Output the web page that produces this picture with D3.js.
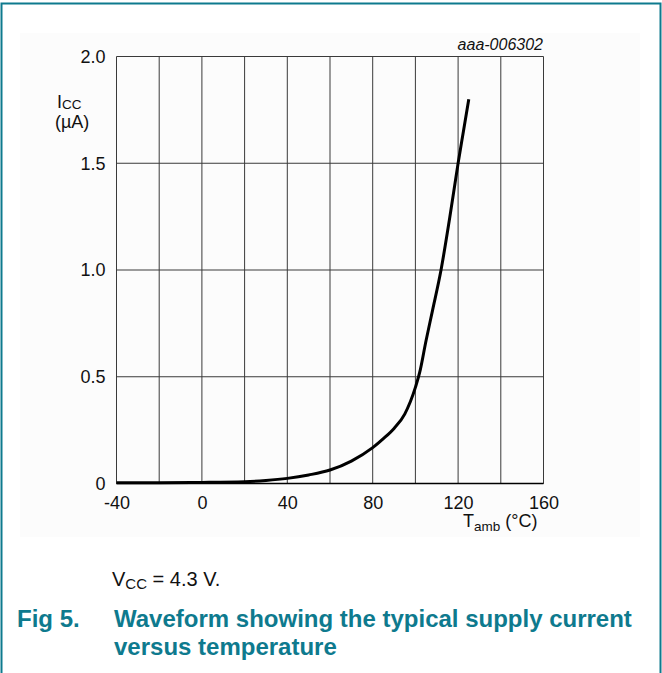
<!DOCTYPE html>
<html>
<head>
<meta charset="utf-8">
<script src="https://cdn.jsdelivr.net/npm/d3@7"></script>
<style>
  body { margin: 0; background: #fff; }
  svg { display: block; font-family: "Liberation Sans", Arial, sans-serif; }
</style>
</head>
<body>
<div id="chart"></div>
<script>
// Typical supply current vs ambient temperature
const temps = [-40, -20, 0, 20, 30, 40, 50, 60, 70, 80, 85, 90, 95, 100, 102, 105, 108, 112, 116, 120, 122.5, 125];
const icc   = [0.004, 0.004, 0.005, 0.008, 0.014, 0.024, 0.04, 0.063, 0.105, 0.168, 0.21, 0.258, 0.325, 0.45, 0.52, 0.67, 0.81, 1.0, 1.24, 1.5, 1.65, 1.8];

const xLabels = [-40, 0, 40, 80, 120, 160];
const yLabels = [0, 0.5, 1.0, 1.5, 2.0];

const W = 662, H = 673;
const TEAL = '#0e7a8e';
const FONT = '"Liberation Sans", Arial, sans-serif';
const plot = { left: 116.5, top: 56.5, right: 543.5, bottom: 483.5 };

const svg = d3.select('#chart').append('svg')
  .attr('width', W).attr('height', H);

// faint figure background + teal frame
svg.append('rect')
  .attr('x', 20).attr('y', 33).attr('width', 620).attr('height', 504)
  .attr('fill', '#fcfcfc');
svg.append('path')
  .attr('d', `M1.5,${H} V3.5 H660.5 V${H}`)
  .attr('fill', 'none').attr('stroke', TEAL).attr('stroke-width', 2);

const x = d3.scaleLinear().domain([-40, 160]).range([plot.left, plot.right]);
const y = d3.scaleLinear().domain([0, 2.0]).range([plot.bottom, plot.top]);

// grid
const grid = svg.append('g').attr('stroke', '#3a3a3a').attr('stroke-width', 1);
grid.selectAll('.vx').data(d3.range(-40, 161, 20)).join('line')
  .attr('x1', d => x(d)).attr('x2', d => x(d))
  .attr('y1', plot.top).attr('y2', plot.bottom);
grid.selectAll('.hy').data(d3.range(0, 2.01, 0.5)).join('line')
  .attr('x1', plot.left).attr('x2', plot.right)
  .attr('y1', d => y(d)).attr('y2', d => y(d));

// bottom axis line a bit heavier
svg.append('line')
  .attr('x1', plot.left).attr('x2', plot.right)
  .attr('y1', plot.bottom).attr('y2', plot.bottom)
  .attr('stroke', '#000').attr('stroke-width', 1.6);

// axis labels via d3 axes
const xAxis = svg.append('g')
  .attr('transform', `translate(0,${plot.bottom})`)
  .call(d3.axisBottom(x).tickValues(xLabels).tickSize(0).tickFormat(d => String(d)));
xAxis.select('.domain').remove();
xAxis.selectAll('text')
  .attr('dy', null).attr('y', 25.5)
  .attr('font-size', 18).attr('fill', '#111').attr('font-family', FONT);

const yAxis = svg.append('g')
  .attr('transform', `translate(${plot.left},0)`)
  .call(d3.axisLeft(y).tickValues(yLabels).tickSize(0).tickPadding(11)
    .tickFormat(d => d === 0 ? '0' : d.toFixed(1)));
yAxis.select('.domain').remove();
yAxis.selectAll('text')
  .attr('font-size', 18).attr('fill', '#111').attr('font-family', FONT);

// curve
const line = d3.line()
  .x((d, i) => x(temps[i]))
  .y(d => y(d))
  .curve(d3.curveMonotoneX);
svg.append('path')
  .attr('d', line(icc))
  .attr('fill', 'none').attr('stroke', '#000').attr('stroke-width', 3);

// axis titles
const yt = svg.append('text').attr('x', 57).attr('y', 108)
  .attr('font-size', 18).attr('fill', '#111');
yt.append('tspan').text('I');
yt.append('tspan').attr('font-size', 13.5).attr('dy', 1).text('CC');
svg.append('text').attr('x', 55).attr('y', 128)
  .attr('font-size', 18).attr('fill', '#111').text('(µA)');

const xt = svg.append('text').attr('x', 463).attr('y', 527)
  .attr('font-size', 18).attr('fill', '#111');
xt.append('tspan').text('T');
xt.append('tspan').attr('font-size', 13.5).attr('dy', 4).text('amb');
xt.append('tspan').attr('dy', -4).text(' (°C)');

svg.append('text').attr('x', 543).attr('y', 50)
  .attr('text-anchor', 'end').attr('font-style', 'italic')
  .attr('font-size', 16).attr('fill', '#111').text('aaa-006302');

// note and caption
const note = svg.append('text').attr('x', 112).attr('y', 586)
  .attr('font-size', 20).attr('fill', '#111');
note.append('tspan').text('V');
note.append('tspan').attr('font-size', 15).attr('dy', 3).text('CC');
note.append('tspan').attr('dy', -3).text(' = 4.3 V.');

svg.append('text').attr('x', 17).attr('y', 627)
  .attr('font-size', 24).attr('font-weight', 'bold').attr('fill', TEAL).text('Fig 5.');
svg.append('text').attr('x', 114).attr('y', 627)
  .attr('font-size', 24).attr('font-weight', 'bold').attr('fill', TEAL)
  .text('Waveform showing the typical supply current');
svg.append('text').attr('x', 114).attr('y', 655)
  .attr('font-size', 24).attr('font-weight', 'bold').attr('fill', TEAL)
  .text('versus temperature');
</script>
</body>
</html>
